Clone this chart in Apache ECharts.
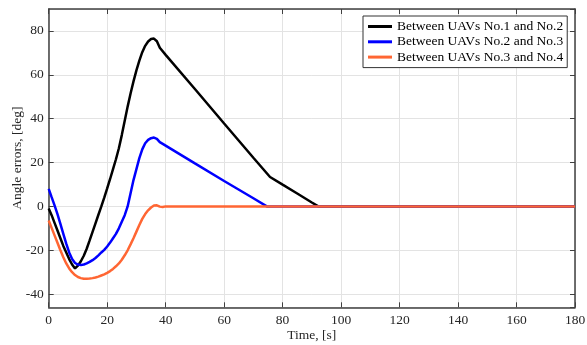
<!DOCTYPE html>
<html>
<head>
<meta charset="utf-8">
<script src="https://cdn.jsdelivr.net/npm/echarts@6/dist/echarts.min.js"></script>
<style>
html,body{margin:0;padding:0;background:#fff;}
#chart{width:587px;height:345px;}
</style>
</head>
<body>
<div id="chart"></div>
<script>
const seriesNames = ['Between UAVs No.1 and No.2', 'Between UAVs No.2 and No.3', 'Between UAVs No.3 and No.4'];
const xTicks = [0, 20, 40, 60, 80, 100, 120, 140, 160, 180];
const yTicks = [-40, -20, 0, 20, 40, 60, 80];

const t12 = [0,1,2,3,4,5,6,7,8,9,10,11,12,13,14,15,16,17,18,19,20,21,22,23,24,25,26,27,28,29,30,31,32,33,34,35,36,37,38,40,50,60,70,75.7,80,85,90,92.2,180];
const v12 = [-1,-4,-7.5,-11,-14.5,-18,-21,-24,-26.5,-28.3,-27,-25,-22.5,-19.3,-15.5,-11.6,-7.7,-3.8,0,4,8.2,12.5,17,21.5,26.5,32.5,39,45.5,51.5,57,62,66.5,70.3,73.2,75.2,76.3,76.5,75.3,72.3,69.1,53.5,37.8,22.2,13.4,9.9,5.9,1.8,0,0];

const t23 = [0,1,2,3,4,5,6,7,8,9,10,11,12,13,14,15,16,17,18,19,20,21,22,23,24,25,26,27,28,29,30,31,32,33,34,35,36,37,38,39,50,60,70,74.6,180];
const v23 = [8,4.2,0.5,-3.5,-8,-12.5,-17,-21,-24,-25.8,-26.5,-26.7,-26.5,-26,-25.3,-24.5,-23.5,-22.3,-21,-19.8,-18.3,-16.5,-14.5,-12.5,-10,-7,-4,0,6,12,17,22,26,28.8,30.3,31.1,31.4,30.8,29.3,28.5,19.6,11.6,3.7,0,0];

const t34 = [0,1,2,3,4,5,6,7,8,9,10,11,12,13,14,15,16,17,18,19,20,21,22,23,24,25,26,27,28,29,30,31,32,33,34,35,36,37,38,39,40,180];
const v34 = [-6.4,-9.8,-13.2,-16.6,-20,-23.2,-26,-28.3,-30,-31.3,-32.2,-32.7,-33,-33,-32.9,-32.7,-32.4,-32,-31.5,-31,-30.3,-29.5,-28.5,-27.3,-26,-24.3,-22.3,-20,-17.3,-14.5,-11.5,-8.5,-5.7,-3.5,-1.8,-0.5,0.4,0.5,-0.1,-0.3,0,0];

const colors = ['#000000', '#0000ff', '#ff6633'];

function zip(t, v) { return t.map((x, i) => [x, v[i]]); }

const font = 'Liberation Serif, Times New Roman, serif';
const axisCol = '#404040';
const fs = 13.5;

const chart = echarts.init(document.getElementById('chart'), null, {renderer: 'canvas'});
const baseX = {
  type: 'value', min: 0, max: 180, interval: 20,
  axisLine: {show: true, onZero: false, lineStyle: {color: axisCol, width: 1.5}},
  axisTick: {show: true, inside: true, length: 5, lineStyle: {color: axisCol, width: 1}},
};
const baseY = {
  type: 'value', min: -46, max: 90, minInterval: 20, maxInterval: 20, splitNumber: 7,
  axisLine: {show: true, onZero: false, lineStyle: {color: axisCol, width: 1.5}},
  axisTick: {show: true, inside: true, length: 5, lineStyle: {color: axisCol, width: 1}},
};

chart.setOption({
  animation: false,
  backgroundColor: '#ffffff',
  textStyle: {fontFamily: font},
  grid: {left: 48.7, right: 12, top: 9, bottom: 37.7, containLabel: false, outerBoundsMode: 'none'},
  legend: {
    data: seriesNames.map(n => ({name: n, icon: 'rect'})),
    orient: 'vertical',
    left: 363, top: 16,
    padding: [3, 4, 3, 5],
    itemWidth: 24, itemHeight: 3, itemGap: 0.3,
    backgroundColor: '#ffffff',
    borderColor: '#333333', borderWidth: 1,
    textStyle: {fontFamily: font, fontSize: fs, color: '#000', lineHeight: 15}
  },
  xAxis: [
    Object.assign({}, baseX, {
      position: 'bottom',
      name: 'Time, [s]', nameLocation: 'middle', nameGap: 21, nameMoveOverlap: false,
      nameTextStyle: {fontFamily: font, fontSize: fs, color: '#262626'},
      axisLabel: {show: true, margin: 6, fontFamily: font, fontSize: fs, color: '#262626',
        customValues: xTicks},
      splitLine: {show: true, lineStyle: {color: '#e3e3e3', width: 1}}
    }),
    Object.assign({}, baseX, {
      position: 'top',
      axisLabel: {show: false},
      splitLine: {show: false}
    })
  ],
  yAxis: [
    Object.assign({}, baseY, {
      position: 'left',
      name: 'Angle errors, [deg]', nameLocation: 'middle', nameGap: 24, nameMoveOverlap: false,
      nameTextStyle: {fontFamily: font, fontSize: fs, color: '#262626'},
      axisLabel: {show: true, margin: 5, fontFamily: font, fontSize: fs, color: '#262626',
        showMinLabel: false, showMaxLabel: false},
      splitLine: {show: true, lineStyle: {color: '#e3e3e3', width: 1}}
    }),
    Object.assign({}, baseY, {
      position: 'right',
      axisLabel: {show: false},
      splitLine: {show: false}
    })
  ],
  series: [
    {name: seriesNames[0], type: 'line', data: zip(t12, v12), xAxisIndex: 0, yAxisIndex: 0,
     symbol: 'none', showSymbol: false, color: colors[0], lineStyle: {width: 2.5, color: colors[0]}, z: 3},
    {name: seriesNames[1], type: 'line', data: zip(t23, v23), xAxisIndex: 0, yAxisIndex: 0,
     symbol: 'none', showSymbol: false, color: colors[1], lineStyle: {width: 2.5, color: colors[1]}, z: 4},
    {name: seriesNames[2], type: 'line', data: zip(t34, v34), xAxisIndex: 0, yAxisIndex: 0,
     symbol: 'none', showSymbol: false, color: colors[2], lineStyle: {width: 2.5, color: colors[2]}, z: 5}
  ]
});
</script>
</body>
</html>
